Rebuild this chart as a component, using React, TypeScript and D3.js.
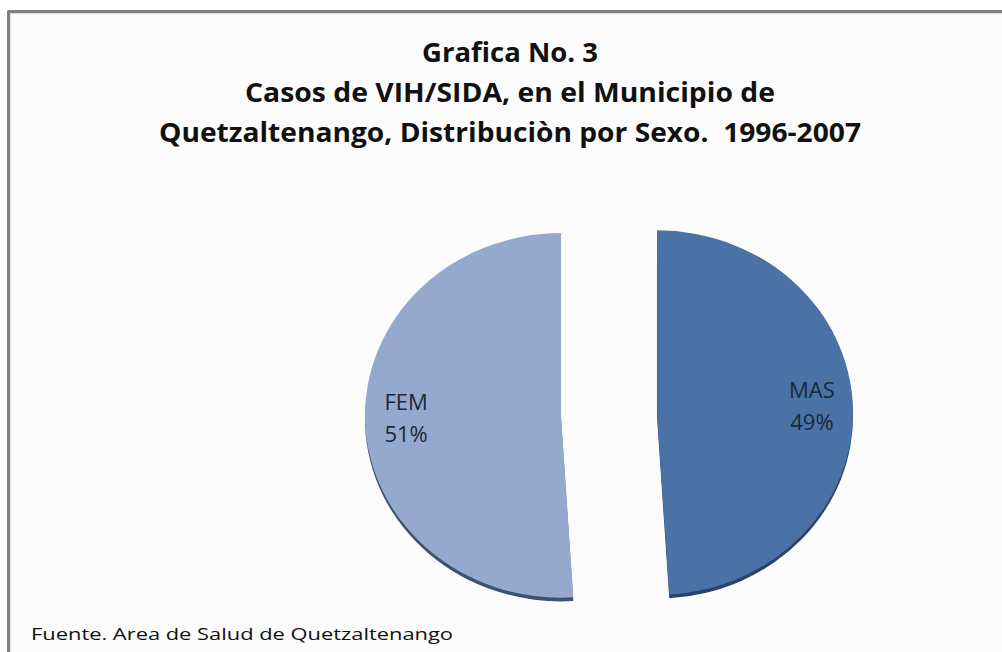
import React from "react";
import * as d3 from "d3";

const titleLines = [
  "Grafica No. 3",
  "Casos de VIH/SIDA, en el Municipio de",
  "Quetzaltenango, Distribuciòn por Sexo.  1996-2007",
];
const categories = ["MAS", "FEM"];
const values = [49, 51];
const pctLabels = ["49%", "51%"];
const sourceNote = "Fuente. Area de Salud de Quetzaltenango";

const W = 1002;
const H = 652;
const cx = 609;
const cy = 414;
const R = 196;
const yScale = 0.93;
const explode = 48;
const depth = 4;

const faceColors = ["#4a72a6", "#94a9cd"];
const edgeColors = ["#2b4366", "#3f5170"];

const titleWidths = [176, 530, 702];
const titleBaselines = [62, 102, 142];

export default function App() {
  const pie = d3
    .pie<number>()
    .sort(null)
    .value((d) => d)
    .startAngle(0)
    .endAngle(2 * Math.PI);
  const arcs = pie(values);
  const arc = d3.arc<d3.PieArcDatum<number>>().innerRadius(0).outerRadius(R);
  const labelArc = d3
    .arc<d3.PieArcDatum<number>>()
    .innerRadius(155)
    .outerRadius(155);

  return (
    <svg
      width={W}
      height={H}
      style={{ position: "absolute", left: 0, top: 0 }}
      viewBox={`0 0 ${W} ${H}`}
    >
      <rect x={0} y={0} width={W} height={H} fill="#ffffff" />
      <rect x={9} y={12} width={W - 9} height={H - 12} fill="#fcfcfc" />
      <line x1={7.5} y1={11.5} x2={W} y2={11.5} stroke="#808080" strokeWidth={3} />
      <line x1={8.5} y1={11} x2={8.5} y2={H} stroke="#808080" strokeWidth={3} />
      <line x1={10} y1={13.5} x2={W} y2={13.5} stroke="#d8d8d8" strokeWidth={1} />
      <line x1={10.5} y1={13} x2={10.5} y2={H} stroke="#e0e0e0" strokeWidth={1} />

      {titleLines.map((t, i) => (
        <text
          key={i}
          x={510}
          y={titleBaselines[i]}
          textAnchor="middle"
          fontFamily="'Open Sans', sans-serif"
          fontWeight={700}
          fontSize={26}
          fill="#111"
          textLength={titleWidths[i]}
          lengthAdjust="spacingAndGlyphs"
          style={{ whiteSpace: "pre" }}
        >
          {t}
        </text>
      ))}

      <g transform={`translate(${cx},${cy}) scale(1,${yScale})`}>
        {arcs.map((a, i) => {
          const mid = (a.startAngle + a.endAngle) / 2;
          const dx = explode * Math.sin(mid);
          const dy = -explode * Math.cos(mid);
          return (
            <g key={categories[i]} transform={`translate(${dx},${dy})`}>
              <path
                d={arc(a) || ""}
                fill={edgeColors[i]}
                transform={`translate(0,${depth})`}
              />
              <path d={arc(a) || ""} fill={faceColors[i]} />
            </g>
          );
        })}
      </g>

      {arcs.map((a, i) => {
        const mid = (a.startAngle + a.endAngle) / 2;
        const dx = explode * Math.sin(mid);
        const dy = -explode * Math.cos(mid);
        const [lx, ly] = labelArc.centroid(a);
        const x = cx + dx + lx;
        const y = cy + (dy + ly) * yScale;
        return (
          <text
            key={"l" + i}
            x={x}
            textAnchor="middle"
            fontFamily="'Open Sans', sans-serif"
            fontSize={22}
            fill="#1c2838"
          >
            <tspan x={x} y={y - 10}>
              {categories[i]}
            </tspan>
            <tspan x={x} y={y + 22}>
              {pctLabels[i]}
            </tspan>
          </text>
        );
      })}

      <text
        x={31}
        y={640}
        fontFamily="'Open Sans', sans-serif"
        fontSize={17}
        fill="#111"
        textLength={422}
        lengthAdjust="spacingAndGlyphs"
      >
        {sourceNote}
      </text>
    </svg>
  );
}
